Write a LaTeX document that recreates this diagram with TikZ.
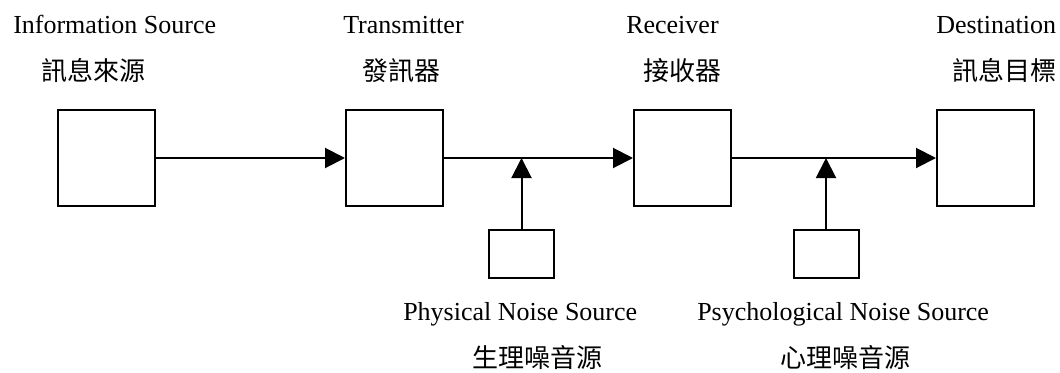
\documentclass[tikz,border=0pt]{standalone}
\usepackage{fontspec}
\setmainfont{Liberation Serif}
\newfontfamily\cjk{Noto Sans CJK TC}
\usetikzlibrary{arrows.meta}
\begin{document}
\begin{tikzpicture}[x=0.75pt,y=-0.75pt,
  blk/.style={draw, line width=1.5pt, minimum width=72.75pt, minimum height=72.4pt, inner sep=0pt},
  nbox/.style={draw, line width=1.5pt, minimum width=48.75pt, minimum height=36pt, inner sep=0pt},
  lbl/.style={font=\fontsize{19.5}{23}\selectfont, inner sep=0pt, anchor=base west},
  clbl/.style={font=\cjk\fontsize{19.5}{23}\selectfont, inner sep=0pt, anchor=base},
  arr/.style={line width=1.5pt, -{Triangle[length=15pt,width=15pt]}}]
\useasboundingbox (0,0) rectangle (1060,372);
% main boxes
\node[blk] (src) at (106,158) {};
\node[blk] (tx) at (394.5,158) {};
\node[blk] (rx) at (682.5,158) {};
\node[blk] (dst) at (985.5,158) {};
% noise boxes
\node[nbox] (pn) at (521.5,254) {};
\node[nbox] (psn) at (826,254) {};
% labels
\node[lbl] (l1) at (13,33) {Information Source};
\node[clbl] (c1) at (93,80) {訊息來源};
\node[lbl] (l2) at (343,33) {Transmitter};
\node[clbl] (c2) at (401,80) {發訊器};
\node[lbl] (l3) at (626,33) {Receiver};
\node[clbl] (c3) at (682,80) {接收器};
\node[lbl] (l4) at (936,33) {Destination};
\node[clbl] (c4) at (1004,80) {訊息目標};
\node[lbl] (l5) at (403,320) {Physical Noise Source};
\node[clbl] (c5) at (537,367) {生理噪音源};
\node[lbl] (l6) at (697,320) {Psychological Noise Source};
\node[clbl] (c6) at (845,367) {心理噪音源};
% connectors
\draw[arr] (src.east) -- (tx.west);
\draw[arr] (tx.east) -- (rx.west);
\draw[arr] (rx.east) -- (dst.west);
\draw[arr] (pn.north) -- (pn.north |- tx.east);
\draw[arr] (psn.north) -- (psn.north |- rx.east);
\end{tikzpicture}
\end{document}
